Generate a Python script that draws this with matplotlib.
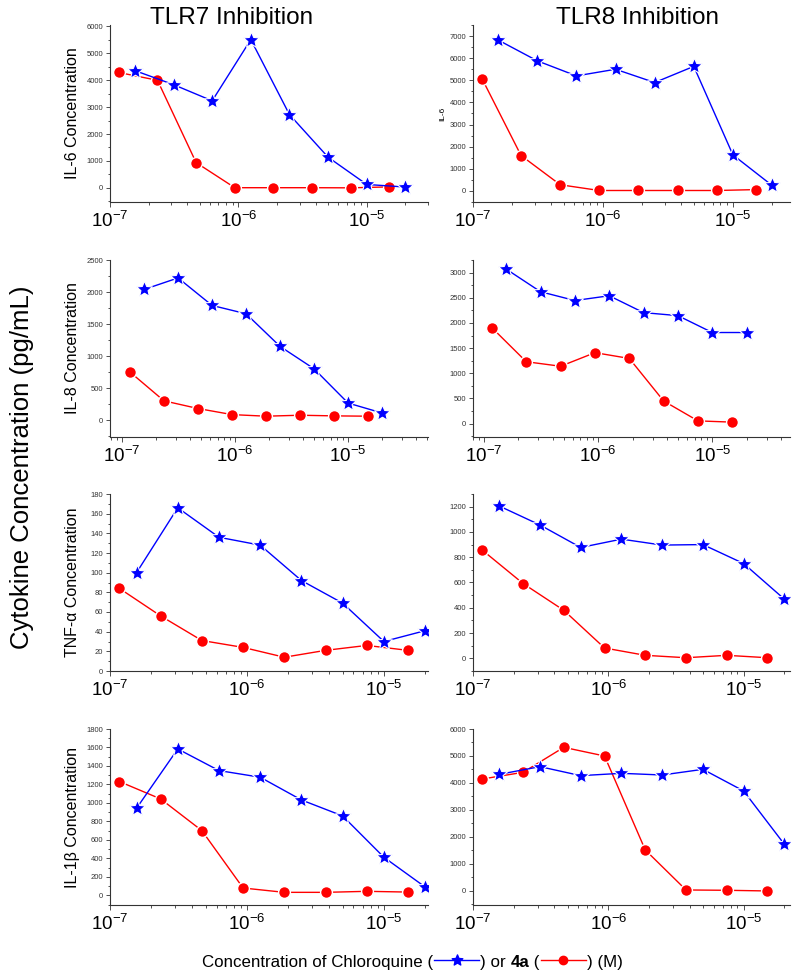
import matplotlib
matplotlib.use('Agg')
import matplotlib.pyplot as plt
from matplotlib.lines import Line2D
from matplotlib.path import Path
from matplotlib.ticker import FixedLocator, LogLocator, NullFormatter, MultipleLocator

plt.rcParams['font.family'] = ['Liberation Sans', 'DejaVu Sans']
plt.rcParams['mathtext.fontset'] = 'custom'
plt.rcParams['mathtext.rm'] = 'Liberation Sans'
plt.rcParams['mathtext.bf'] = 'Liberation Sans:bold'

# concentrations in uM (2-fold dilutions)
chloroquine_uM = [0.15625, 0.3125, 0.625, 1.25, 2.5, 5, 10, 20]
cmpd4a_uM = [0.1171875, 0.234375, 0.46875, 0.9375, 1.875, 3.75, 7.5, 15]

# cytokine levels (pg/mL)
il6_tlr7_cq = [4350, 3830, 3230, 5500, 2720, 1140, 130, 35]
il6_tlr7_4a = [4280, 3990, 940, 10, 10, 10, 5, 40]
il6_tlr8_cq = [6820, 5880, 5200, 5500, 4900, 5630, 1630, 250]
il6_tlr8_4a = [5080, 1600, 280, 20, 20, 20, 20, 60]

il8_tlr7_cq = [2040, 2220, 1790, 1660, 1150, 800, 265, 110]
il8_tlr7_4a = [750, 300, 180, 85, 60, 75, 65, 60]
il8_tlr8_cq = [3070, 2620, 2445, 2540, 2205, 2145, 1810, 1810]
il8_tlr8_4a = [1905, 1230, 1140, 1410, 1295, 450, 55, 30]

tnf_tlr7_cq = [100, 166, 136, 128, 92, 69, 30, 41]
tnf_tlr7_4a = [84, 56, 31, 24, 14, 21, 26, 21]
tnf_tlr8_cq = [1205, 1055, 877, 943, 896, 900, 750, 468]
tnf_tlr8_4a = [856, 592, 380, 82, 24, 5, 24, 5]

il1b_tlr7_cq = [942, 1584, 1350, 1278, 1032, 859, 412, 90]
il1b_tlr7_4a = [1231, 1043, 700, 79, 32, 32, 43, 35]
il1b_tlr8_cq = [4320, 4605, 4272, 4358, 4296, 4506, 3704, 1728]
il1b_tlr8_4a = [4148, 4395, 5321, 5000, 1519, 37, 25, 0]

ylabels_left = ['IL-6 Concentration', 'IL-8 Concentration',
                'TNF-\u03b1 Concentration', 'IL-1\u03b2 Concentration']
col_titles = ['TLR7 Inhibition', 'TLR8 Inhibition']
xtick_vals = [1e-7, 1e-6, 1e-5]
xtick_labels = [r'$\mathregular{10^{-7}}$', r'$\mathregular{10^{-6}}$', r'$\mathregular{10^{-5}}$']

x_cq = [c * 1e-6 for c in chloroquine_uM]
x_4a = [c * 1e-6 for c in cmpd4a_uM]

# fatter star, like the Origin one
star = Path.unit_regular_star(5, innerCircle=0.45)

W, H = 800, 980
fig = plt.figure(figsize=(W / 100, H / 100), dpi=100)

# (row, col, cq, 4a, ylim, major, minor, xlim)
panels = [
    (0, 0, il6_tlr7_cq, il6_tlr7_4a, (-520, 6040), 1000, 500, (1e-7, 3.0e-5)),
    (0, 1, il6_tlr8_cq, il6_tlr8_4a, (-500, 7500), 1000, 500, (1e-7, 2.75e-5)),
    (1, 0, il8_tlr7_cq, il8_tlr7_4a, (-265, 2500), 500, 250, (7.8e-8, 5.1e-5)),
    (1, 1, il8_tlr8_cq, il8_tlr8_4a, (-265, 3250), 500, 250, (8.0e-8, 4.8e-5)),
    (2, 0, tnf_tlr7_cq, tnf_tlr7_4a, (0, 180), 20, 10, (1e-7, 2.1e-5)),
    (2, 1, tnf_tlr8_cq, tnf_tlr8_4a, (-100, 1300), 200, 100, (1e-7, 2.2e-5)),
    (3, 0, il1b_tlr7_cq, il1b_tlr7_4a, (-105, 1800), 200, 100, (1e-7, 2.1e-5)),
    (3, 1, il1b_tlr8_cq, il1b_tlr8_4a, (-520, 6000), 1000, 500, (1e-7, 2.2e-5)),
]

row_top = [25, 260, 494, 729]
row_bot = [202, 437, 671, 905]
col_left = [110, 473]
col_right = [428, 790]

for row, col, cq, a4, ylim, major, minor, xlim in panels:
    l, r = col_left[col], col_right[col]
    t, b = row_top[row], row_bot[row]
    ax = fig.add_axes([l / W, 1 - b / H, (r - l) / W, (b - t) / H])
    ax.plot(x_4a, a4, color='#ff0000', lw=1.0, marker='o', ms=8.5,
            mfc='#ff0000', mec='white', mew=1.0, zorder=3)
    ax.plot(x_cq, cq, color='#0000ff', lw=1.0, marker=star, ms=12,
            mfc='#0000ff', mec='white', mew=0.8, zorder=4)
    ax.set_xscale('log')
    ax.set_xlim(*xlim)
    ax.set_ylim(*ylim)
    ax.xaxis.set_major_locator(FixedLocator(xtick_vals))
    ax.set_xticklabels(xtick_labels)
    ax.xaxis.set_minor_locator(LogLocator(base=10, subs=range(2, 10)))
    ax.xaxis.set_minor_formatter(NullFormatter())
    ax.yaxis.set_major_locator(MultipleLocator(major))
    ax.yaxis.set_minor_locator(MultipleLocator(minor))
    for s in ['top', 'right']:
        ax.spines[s].set_visible(False)
    for s in ['left', 'bottom']:
        ax.spines[s].set_linewidth(0.8)
        ax.spines[s].set_color('#333333')
    ax.tick_params(axis='both', which='both', direction='out', width=0.6, color='#333333')
    ax.tick_params(axis='x', which='major', length=3.5, labelsize=13.5, pad=3)
    ax.tick_params(axis='x', which='minor', length=2)
    ax.tick_params(axis='y', which='major', length=3, labelsize=5.5, pad=2, labelcolor='#333333')
    ax.tick_params(axis='y', which='minor', length=1.8)
    ax.set_facecolor('none')
    if col == 0:
        ax.set_ylabel(ylabels_left[row], fontsize=11.5)
        ax.yaxis.set_label_coords(-0.095, 0.5)
    elif row == 0:
        ax.set_ylabel('IL-6', fontsize=6)
        ax.yaxis.set_label_coords(-0.085, 0.5)

fig.text(232 / W, 1 - 18 / H, col_titles[0], fontsize=17.5, ha='center', va='center')
fig.text(637 / W, 1 - 18 / H, col_titles[1], fontsize=17.5, ha='center', va='center')
fig.text(22 / W, 1 - 467 / H, 'Cytokine Concentration (pg/mL)', fontsize=18.5,
         rotation=90, ha='center', va='center')

# bottom x label with inline legend symbols
renderer = fig.canvas.get_renderer()
base_y = 1 - 967 / H
line_y = 1 - 960 / H
x = 202 / W


def put_text(s, x, **kw):
    t = fig.text(x, base_y, s, fontsize=12.2, ha='left', va='baseline', **kw)
    bb = t.get_window_extent(renderer)
    return bb.x1 / W


def put_symbol(x, color, marker, ms):
    x0 = x + 1 / W
    x1 = x0 + 45 / W
    fig.add_artist(Line2D([x0, x1], [line_y, line_y], transform=fig.transFigure,
                          color=color, lw=1.0))
    fig.add_artist(Line2D([(x0 + x1) / 2], [line_y], transform=fig.transFigure,
                          color=color, marker=marker, ms=ms, mec=color, lw=0))
    return x1 + 1 / W


x = put_text('Concentration of Chloroquine (', x)
x = put_symbol(x, '#0000ff', star, 8)
x = put_text(') or ', x)
x = put_text('4a', x, fontweight='bold')
x = put_text(' (', x)
x = put_symbol(x, '#ff0000', 'o', 6)
x = put_text(') (M)', x)

fig.savefig('out.png', dpi=100)
